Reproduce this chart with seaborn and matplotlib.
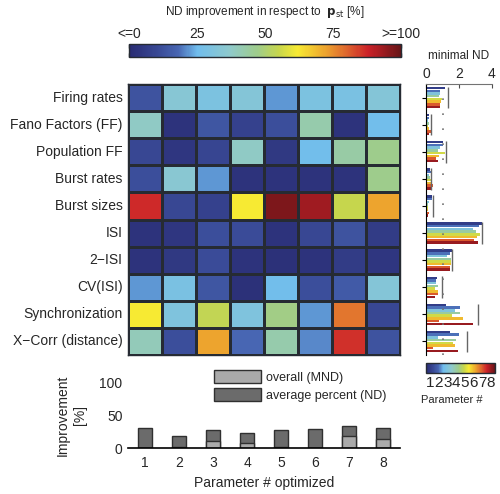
import numpy as np
import pandas as pd
import matplotlib
matplotlib.use("Agg")
import matplotlib.pyplot as plt
from matplotlib.colors import LinearSegmentedColormap, Normalize
from matplotlib.cm import ScalarMappable
from matplotlib.patches import Patch
import seaborn as sns

sns.set_style("white")
plt.rcParams["font.family"] = ["Liberation Sans", "DejaVu Sans"]

# ---------------- data ----------------
features = ["Firing rates", "Fano Factors (FF)", "Population FF", "Burst rates",
            "Burst sizes", "ISI", "2\u2212ISI", "CV(ISI)", "Synchronization",
            "X\u2212Corr (distance)"]
params = ["1", "2", "3", "4", "5", "6", "7", "8"]

# ND improvement in respect to p_st [%] (rows = features, cols = parameter optimized)
improvement = [
    [13, 34, 30, 33, 22, 30, 29, 33],
    [38, 3, 14, 8, 12, 42, 3, 26],
    [10, 4, 9, 38, 5, 26, 43, 47],
    [12, 35, 22, 3, 3, 3, 3, 47],
    [87, 10, 8, 62, 97, 93, 55, 72],
    [3, 4, 12, 11, 3, 10, 13, 6],
    [3, 5, 11, 3, 2, 3, 6, 4],
    [22, 29, 14, 2, 26, 12, 15, 33],
    [62, 31, 54, 31, 48, 22, 78, 10],
    [40, 12, 72, 18, 42, 21, 86, 13],
]

# minimal ND per feature for each parameter
min_nd = [
    [1.15, 0.85, 0.85, 0.80, 0.95, 0.90, 0.85, 0.85],
    [0.20, 0.20, 0.15, 0.20, 0.15, 0.20, 0.30, 0.20],
    [1.05, 1.00, 0.85, 0.70, 1.15, 0.80, 0.60, 0.70],
    [0.25, 0.30, 0.20, 0.25, 0.30, 0.35, 0.40, 0.30],
    [0.35, 0.35, 0.20, 0.10, 0.15, 0.15, 0.20, 0.15],
    [3.40, 3.20, 2.85, 3.00, 3.25, 3.10, 2.90, 3.15],
    [1.55, 1.45, 1.25, 1.50, 1.50, 1.50, 1.45, 1.45],
    [0.65, 0.60, 0.60, 0.75, 0.55, 0.75, 0.70, 0.55],
    [1.20, 2.05, 1.75, 2.05, 1.60, 2.25, 0.80, 2.85],
    [1.45, 2.00, 0.70, 1.80, 1.65, 1.75, 0.40, 1.95],
]
# ND of p_st (reference line per feature)
ref_nd = [1.33, 0.28, 1.20, 0.28, 0.40, 3.40, 1.55, 0.97, 3.15, 2.50]

# bottom bar chart [%]
avg_percent = [31, 18, 28, 22, 27, 29, 34, 31]
overall_mnd = [0, 1, 10, 7, 1, 0, 18, 14]

# ---------------- colormap ----------------
anchors = [
    (0.00, (0.16, 0.17, 0.45)),
    (0.10, (0.22, 0.28, 0.58)),
    (0.18, (0.28, 0.40, 0.70)),
    (0.25, (0.44, 0.74, 0.93)),
    (0.37, (0.56, 0.79, 0.80)),
    (0.47, (0.62, 0.80, 0.55)),
    (0.55, (0.78, 0.84, 0.30)),
    (0.62, (0.97, 0.92, 0.20)),
    (0.72, (0.93, 0.65, 0.18)),
    (0.80, (0.87, 0.40, 0.18)),
    (0.88, (0.80, 0.13, 0.16)),
    (1.00, (0.40, 0.08, 0.09)),
]
cmap = LinearSegmentedColormap.from_list("mutedjet", anchors)
pal = [cmap((k + 0.5) / 8) for k in range(8)]

W, H = 500, 494
fig = plt.figure(figsize=(W / 100, H / 100), dpi=100)

def box(x0, y0, x1, y1):
    return [x0 / W, 1 - y1 / H, (x1 - x0) / W, (y1 - y0) / H]

# ---------------- heatmap ----------------
ax = fig.add_axes(box(128, 84, 400, 355))
cax = fig.add_axes(box(129, 44, 401, 57.5))
df_heat = pd.DataFrame(improvement, index=features, columns=params)
sns.heatmap(df_heat, ax=ax, cmap=cmap, vmin=0, vmax=100, cbar_ax=cax,
            cbar_kws={"orientation": "horizontal"}, linewidths=1,
            linecolor="#262b33", xticklabels=False, yticklabels=True)
for s in ax.spines.values():
    s.set_visible(True)
    s.set_linewidth(1)
    s.set_color("#262b33")
ax.tick_params(axis="y", length=0, pad=4, labelsize=10, rotation=0)
ax.set_xlabel("")
ax.set_ylabel("")

cb = ax.collections[0].colorbar
cb.outline.set_linewidth(1)
cb.outline.set_edgecolor("#262b33")
cax.xaxis.set_ticks_position("top")
cax.set_xticks([0, 25, 50, 75, 100])
cax.set_xticklabels(["<=0", "25", "50", "75", ">=100"])
cax.tick_params(axis="x", direction="in", length=3, width=1, color="#262b33",
                top=True, bottom=True, labeltop=True, labelbottom=False,
                labelsize=10, pad=2)
fig.text(265 / W, 1 - 12 / H, "ND improvement in respect to  $\\mathbf{p}_{\\mathrm{st}}$ [%]",
         ha="center", va="center", fontsize=8.5)

# ---------------- right panel: minimal ND ----------------
rax = fig.add_axes(box(426, 84, 492, 355))
rows = []
for f, vals in zip(features, min_nd):
    for p, v in zip(params, vals):
        rows.append({"feature": f, "param": p, "nd": v})
df_nd = pd.DataFrame(rows)
sns.barplot(data=df_nd, y="feature", x="nd", hue="param", order=features,
            hue_order=params, palette=pal, orient="h", width=0.8, gap=0.1,
            legend=False, ax=rax, linewidth=0, saturation=1)
for i, r in enumerate(ref_nd):
    rax.vlines(r, i - 0.4, i + 0.4, color="0.4", lw=1)
rax.axvline(1, color="0.45", lw=1.2, linestyle=(0, (1, 8)))
rax.set_xlim(0, 4)
rax.set_ylim(len(features) - 0.5, -0.5)
rax.xaxis.tick_top()
rax.xaxis.set_label_position("top")
rax.set_xticks([0, 2, 4])
rax.tick_params(axis="x", direction="in", length=3, labelsize=10, pad=2, color="0.3")
rax.set_xlabel("minimal ND", fontsize=8.5, labelpad=6)
rax.set_ylabel("")
rax.set_yticks(range(len(features)))
rax.set_yticklabels([])
rax.tick_params(axis="y", direction="out", length=3, left=True, color="black")
for side in ["right", "bottom"]:
    rax.spines[side].set_visible(False)
rax.spines["left"].set_color("black")
rax.spines["top"].set_color("0.45")

# parameter colorbar
pax = fig.add_axes(box(426, 363, 495, 373))
pcb = fig.colorbar(ScalarMappable(norm=Normalize(0.5, 8.5), cmap=cmap),
                   cax=pax, orientation="horizontal")
pcb.set_ticks(range(1, 9))
pcb.set_ticklabels(params)
pax.tick_params(axis="x", length=0, labelsize=11, pad=2)
pcb.outline.set_linewidth(1)
pcb.outline.set_edgecolor("#262b33")
fig.text(452 / W, 1 - 400 / H, "Parameter #", ha="center", va="center", fontsize=8)

# ---------------- bottom bar chart ----------------
bax = fig.add_axes(box(128, 382, 400, 448))
dark, light = "#6b6b6b", "#aaaaaa"
sns.barplot(x=params, y=avg_percent, order=params, color=dark, width=0.43,
            edgecolor="#303030", linewidth=1, saturation=1, ax=bax)
sns.barplot(x=params, y=overall_mnd, order=params, color=light, width=0.43,
            edgecolor="#303030", linewidth=1, saturation=1, ax=bax)
bax.set_ylim(0, 100)
bax.set_xlim(-0.5, 7.5)
bax.set_yticks([0, 50, 100])
bax.tick_params(axis="y", length=0, labelsize=10, pad=4)
bax.tick_params(axis="x", length=0, labelsize=10, pad=6)
for side in ["right", "top", "left"]:
    bax.spines[side].set_visible(False)
bax.spines["bottom"].set_color("black")
bax.spines["bottom"].set_linewidth(1.2)
bax.set_xlabel("Parameter # optimized", fontsize=10, labelpad=4)
bax.set_ylabel("Improvement\n[%]", fontsize=10, linespacing=1.3)
bax.yaxis.set_label_coords((87 - 128) / 272, 0.5)

handles = [Patch(facecolor=light, edgecolor="#303030", label="overall (MND)"),
           Patch(facecolor=dark, edgecolor="#303030", label="average percent (ND)")]
fig.legend(handles=handles, loc="upper left", bbox_to_anchor=(214 / W, 1 - 370 / H),
           frameon=False, fontsize=9, handlelength=3.76, handleheight=1.2,
           handletextpad=0.4, labelspacing=0.38, borderpad=0, borderaxespad=0)

fig.savefig("out.png", dpi=100)
